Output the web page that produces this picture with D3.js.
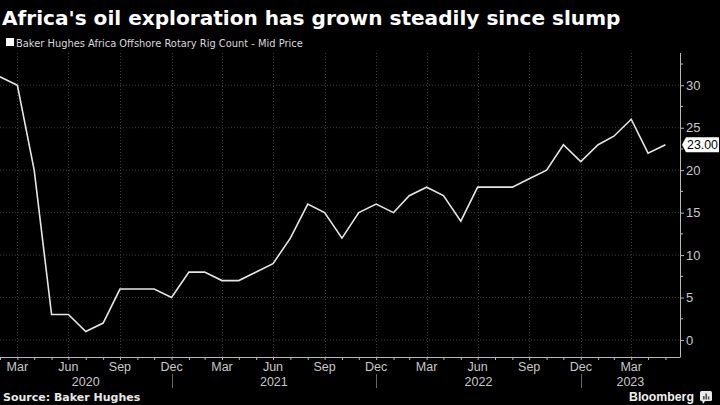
<!DOCTYPE html>
<html><head><meta charset="utf-8">
<script src="https://cdn.jsdelivr.net/npm/d3@7"></script>
<style>
html,body{margin:0;padding:0;background:#000;}
svg{display:block;}
</style></head>
<body>
<svg id="c" width="720" height="405"></svg>
<script>
const months = ["2020-02","2020-03","2020-04","2020-05","2020-06","2020-07","2020-08","2020-09","2020-10","2020-11","2020-12",
"2021-01","2021-02","2021-03","2021-04","2021-05","2021-06","2021-07","2021-08","2021-09","2021-10","2021-11","2021-12",
"2022-01","2022-02","2022-03","2022-04","2022-05","2022-06","2022-07","2022-08","2022-09","2022-10","2022-11","2022-12",
"2023-01","2023-02","2023-03","2023-04","2023-05"];
const rigCount = [31,30,20,3,3,1,2,6,6,6,5,
8,8,7,7,8,9,12,16,15,12,15,16,
15,17,18,17,14,18,18,18,19,20,23,21,
23,24,26,22,23];
const yTicks = [0,5,10,15,20,25,30];
const monthNames = ["Jan","Feb","Mar","Apr","May","Jun","Jul","Aug","Sep","Oct","Nov","Dec"];
const years = ["2020","2021","2022","2023"];
const titleText = "Africa's oil exploration has grown steadily since slump";
const legendText = "Baker Hughes Africa Offshore Rotary Rig Count - Mid Price";
const sourceText = "Source: Baker Hughes";

const svg = d3.select("#c");
svg.append("rect").attr("width",720).attr("height",405).attr("fill","#000");

const monthEnd = s => { const [y,m] = s.split("-").map(Number); return new Date(y, m, 0); };
const data = months.map((m,i)=>({date: monthEnd(m), value: rigCount[i], month: +m.split("-")[1]}));

const L = 0, R = 680, T = 53, B = 357;
const x = d3.scaleTime()
  .domain([data[0].date, new Date(2023,5,26)])
  .range([L, R]);
const y = d3.scaleLinear().domain([-2, 33.8]).range([B, T]);

const grid = "#3c3c3c";
svg.append("g").selectAll("line").data(yTicks).join("line")
  .attr("x1",L).attr("x2",R).attr("y1",d=>y(d)).attr("y2",d=>y(d))
  .attr("stroke",grid).attr("stroke-width",1).attr("stroke-dasharray","1,2");
const quarterData = data.filter(d=>d.month%3===0);
svg.append("g").selectAll("line").data(quarterData).join("line")
  .attr("x1",d=>Math.round(x(d.date))+0.5).attr("x2",d=>Math.round(x(d.date))+0.5)
  .attr("y1",T).attr("y2",B)
  .attr("stroke",grid).attr("stroke-width",1).attr("stroke-dasharray","1,2");

const axisCol = "#b8b8b8";
const xAxis = svg.append("g").attr("transform",`translate(0,${B})`)
  .call(d3.axisBottom(x).tickValues(data.map(d=>d.date)).tickSize(3).tickFormat(""));
xAxis.select(".domain").attr("stroke",axisCol).attr("d",`M${L},0.5H${R}`);
xAxis.selectAll(".tick line").attr("stroke",axisCol);

const lblFont = "'Liberation Sans', Arial, sans-serif";
const lblCol = "#c8c8c8";
svg.append("g").selectAll("text").data(quarterData).join("text")
  .attr("x",d=>x(d.date)).attr("y",371)
  .attr("text-anchor","middle").attr("font-family",lblFont).attr("font-size",12.5)
  .attr("fill",lblCol).text(d=>monthNames[d.month-1]);

const yearEnds = years.map(yr=>new Date(+yr,11,31));
const bounds = years.map((yr,i)=>{
  const a = i===0 ? x.range()[0] : x(yearEnds[i-1]);
  const b = i===years.length-1 ? x.range()[1] : x(yearEnds[i]);
  return {yr, mid:(a+b)/2};
});
svg.append("g").selectAll("text").data(bounds).join("text")
  .attr("x",d=>d.mid).attr("y",386)
  .attr("text-anchor","middle").attr("font-family",lblFont).attr("font-size",12.5)
  .attr("fill",lblCol).text(d=>d.yr);
svg.append("g").selectAll("line").data(yearEnds.slice(0,3)).join("line")
  .attr("x1",d=>Math.round(x(d))+0.5).attr("x2",d=>Math.round(x(d))+0.5)
  .attr("y1",374).attr("y2",388).attr("stroke","#666").attr("stroke-width",1);

const yAxis = svg.append("g").attr("transform",`translate(${R},0)`)
  .call(d3.axisRight(y).tickValues(yTicks).tickSize(4).tickPadding(2).tickFormat(d3.format("d")));
yAxis.select(".domain").attr("stroke",axisCol).attr("d",`M0.5,${T}V${B+0.5}`);
yAxis.selectAll(".tick line").attr("stroke",axisCol);
yAxis.selectAll(".tick text").attr("fill",lblCol).attr("font-family",lblFont).attr("font-size",13);
svg.append("g").selectAll("line").data(yTicks.slice(0,-1).map(d=>d+2.5).concat([32.5])).join("line")
  .attr("x1",R).attr("x2",R+3).attr("y1",d=>y(d)).attr("y2",d=>y(d))
  .attr("stroke",axisCol).attr("stroke-width",1);

svg.append("path").datum(data)
  .attr("d", d3.line().x(d=>x(d.date)).y(d=>y(d.value)))
  .attr("fill","none").attr("stroke","#e6e6e6").attr("stroke-width",1.6)
  .attr("stroke-linejoin","miter");

const last = data[data.length-1];
const ly = y(last.value);
svg.append("path")
  .attr("d",`M${R+2},${ly} L${R+6},${ly-7.5} H719 V${ly+7.5} H${R+6} Z`)
  .attr("fill","#fff");
const tag = svg.append("text").attr("x",R+7).attr("y",ly+4.5)
  .attr("font-family",lblFont).attr("font-size",13).attr("fill","#000")
  .text(d3.format(".2f")(last.value));
const tgw = tag.node().getComputedTextLength();
tag.attr("font-size", 13*31/tgw);

const title = svg.append("text").attr("x",2).attr("y",25)
  .attr("font-family","'DejaVu Sans', Verdana, sans-serif").attr("font-weight","bold")
  .attr("font-size",20).attr("fill","#fff").text(titleText);
const tw = title.node().getComputedTextLength();
title.attr("font-size", 20*619/tw);

svg.append("rect").attr("x",6).attr("y",38).attr("width",8).attr("height",8).attr("fill","#fff");
const leg = svg.append("text").attr("x",16).attr("y",46.5)
  .attr("font-family","'DejaVu Sans', sans-serif").attr("font-size",11).attr("fill","#d8d8d8").text(legendText);
const lw = leg.node().getComputedTextLength();
leg.attr("font-size", 11*287/lw);

svg.append("text").attr("x",3).attr("y",401)
  .attr("font-family","'DejaVu Sans', Verdana, sans-serif").attr("font-weight","bold")
  .attr("font-size",11).attr("fill","#e8e8e8").text(sourceText);

const bb = svg.append("text").attr("x",629).attr("y",401)
  .attr("font-family",lblFont).attr("font-weight","bold")
  .attr("font-size",14).attr("fill","#f0f0f0").text("Bloomberg");
const bw = bb.node().getComputedTextLength();
bb.attr("font-size", 14*65/bw);
const ic = svg.append("g").attr("transform","translate(700,391)");
ic.append("rect").attr("width",12).attr("height",10).attr("rx",1.5).attr("fill","#e8e8e8");
ic.append("path").attr("d","M2,9.5 L3,13 L5.5,9.5 Z").attr("fill","#e8e8e8");
[[3,5,1.6,3.5],[5.4,2.5,1.6,6],[7.8,5.5,1.6,3]].forEach(b=>ic.append("rect").attr("x",b[0]).attr("y",b[1]).attr("width",b[2]).attr("height",b[3]).attr("fill","#555"));
</script>
</body></html>
